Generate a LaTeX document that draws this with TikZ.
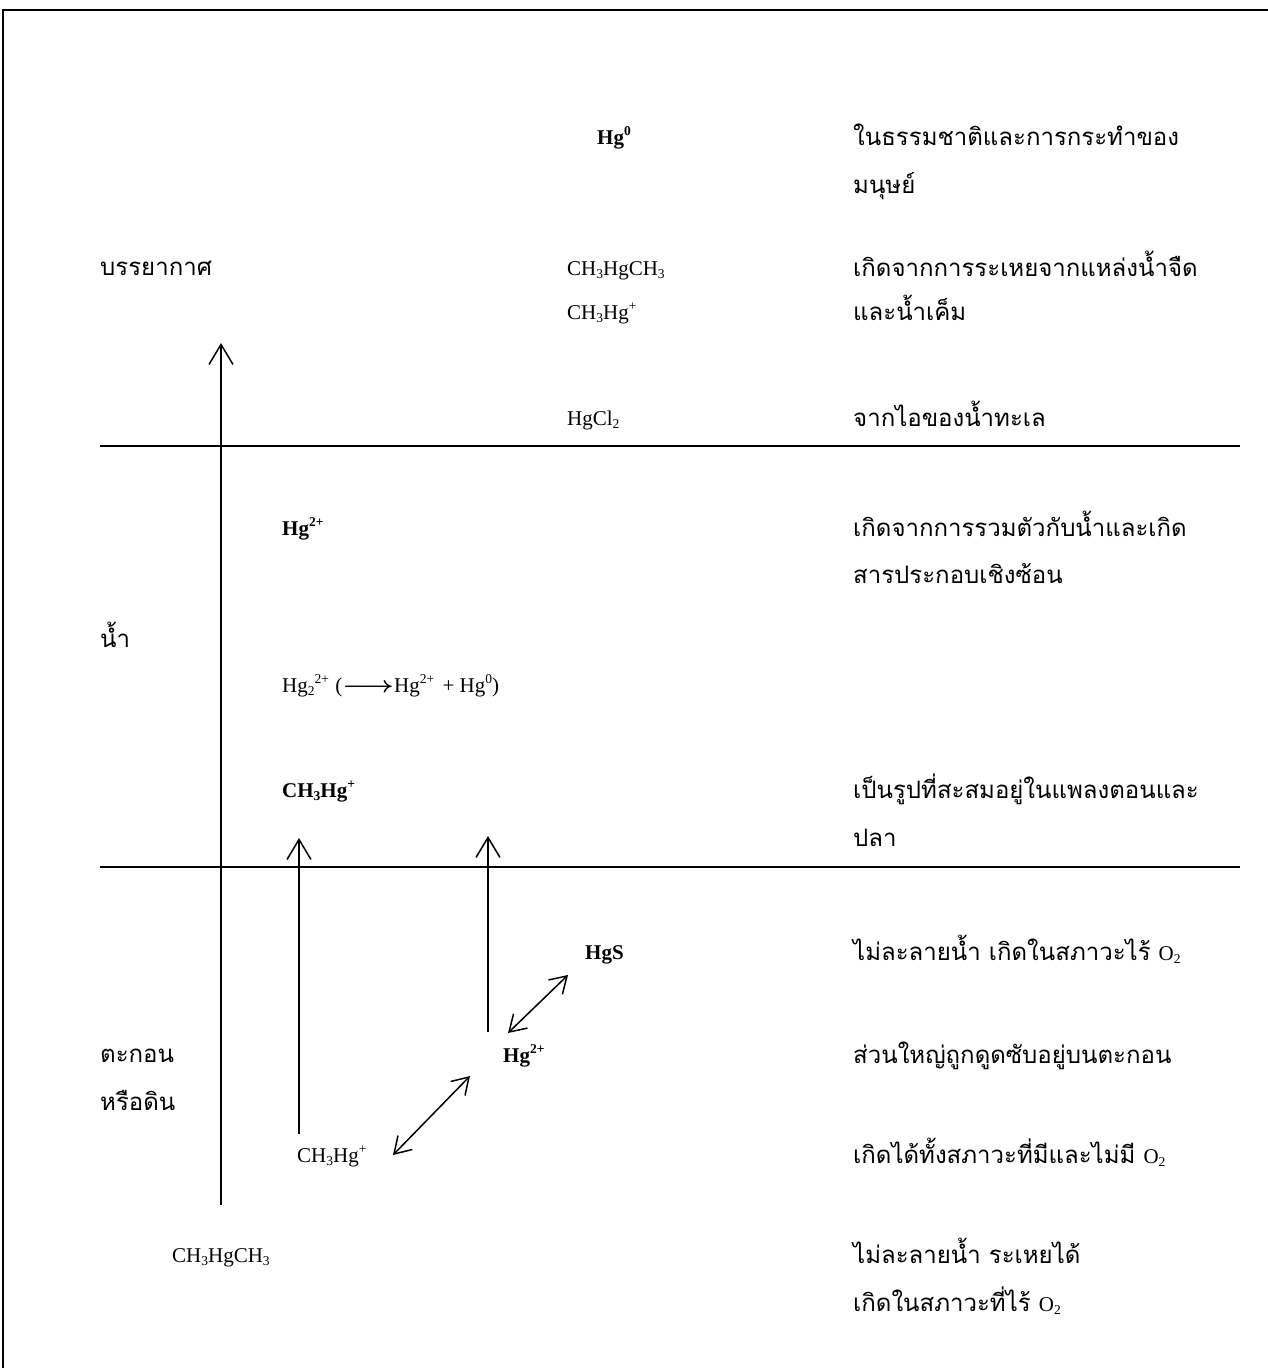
\documentclass[tikz,border=0pt]{standalone}
\usepackage{fontspec}
\usepackage{graphicx}
\setmainfont{Liberation Serif}
\newfontfamily\thai[Script=Thai]{Loma}
\usetikzlibrary{arrows.meta}
\newcommand{\lo}[1]{\raisebox{-0.35ex}{\fontsize{13.5}{13.5}\selectfont #1}}
\newcommand{\hi}[1]{\raisebox{0.85ex}{\fontsize{13.5}{13.5}\selectfont #1}}
\newcommand{\bigarr}{\scalebox{1.35}[1.1]{\boldmath$\longrightarrow$}}
\tikzset{
  chem/.style={anchor=base west, inner sep=0pt, font=\fontsize{21}{24}\selectfont},
  bchem/.style={chem, font=\fontsize{21}{24}\selectfont\bfseries},
  th/.style={anchor=base west, inner sep=0pt, font=\fontsize{24}{28}\selectfont\thai},
  rule/.style={line width=1.6pt},
  up/.style={line width=1.5pt, -{Straight Barb[length=20pt,width=24pt,line width=1.5pt]}},
  both/.style={line width=1.5pt, {Straight Barb[length=16pt,width=20pt,line width=1.5pt]}-{Straight Barb[length=16pt,width=20pt,line width=1.5pt]}}
}
\begin{document}
\begin{tikzpicture}[x=1pt,y=-1pt]
\useasboundingbox (0,0) rectangle (1268,1368);
% frame
\draw[rule] (1268,10) -- (3,10) -- (3,1368);
% layer lines
\draw[rule] (100,446) -- (1240,446);
\draw[rule] (100,867) -- (1240,867);
% layer labels
\node[th] (atm) at (100,275) {บรรยากาศ};
\node[th] (water) at (100,647) {น้ำ};
\node[th] (sed1) at (100,1062) {ตะกอน};
\node[th] (sed2) at (100,1110) {หรือดิน};
% atmosphere
\node[bchem] (hg0) at (597,144) {Hg\hi{0}};
\node[th] (d1a) at (853,145) {ในธรรมชาติและการกระทำของ};
\node[th] (d1b) at (853,193) {มนุษย์};
\node[chem] (dmA) at (567,275) {CH\lo{3}HgCH\lo{3}};
\node[chem] (mmA) at (567,319) {CH\lo{3}Hg\hi{+}};
\node[th] (d2a) at (853,276) {เกิดจากการระเหยจากแหล่งน้ำจืด};
\node[th] (d2b) at (853,320) {และน้ำเค็ม};
\node[chem] (hgcl) at (567,425) {HgCl\lo{2}};
\node[th] (d3) at (853,426) {จากไอของน้ำทะเล};
% water
\node[bchem] (hg2w) at (282,535) {Hg\hi{2+}};
\node[th] (d4a) at (853,536) {เกิดจากการรวมตัวกับน้ำและเกิด};
\node[th] (d4b) at (853,583) {สารประกอบเชิงซ้อน};
\node[chem] (hg22) at (282,692) {Hg\lo{2}\hi{2+}\hspace{0.3em}(\bigarr Hg\hi{2+}\hspace{0.15em} + Hg\hi{0})};
\node[bchem] (mmW) at (282,797) {CH\lo{3}Hg\hi{+}};
\node[th] (d5a) at (853,798) {เป็นรูปที่สะสมอยู่ในแพลงตอนและ};
\node[th] (d5b) at (853,846) {ปลา};
% sediment
\node[bchem] (hgs) at (585,959) {HgS};
\node[th] (d6) at (853,960) {ไม่ละลายน้ำ เกิดในสภาวะไร้ {\rmfamily\fontsize{21}{24}\selectfont O\lo{2}}};
\node[bchem] (hg2s) at (503,1062) {Hg\hi{2+}};
\node[th] (d7) at (853,1063) {ส่วนใหญ่ถูกดูดซับอยู่บนตะกอน};
\node[chem] (mmS) at (297,1162) {CH\lo{3}Hg\hi{+}};
\node[th] (d8) at (853,1163) {เกิดได้ทั้งสภาวะที่มีและไม่มี {\rmfamily\fontsize{21}{24}\selectfont O\lo{2}}};
\node[chem] (dmS) at (172,1262) {CH\lo{3}HgCH\lo{3}};
\node[th] (d9a) at (853,1263) {ไม่ละลายน้ำ ระเหยได้};
\node[th] (d9b) at (853,1311) {เกิดในสภาวะที่ไร้ {\rmfamily\fontsize{21}{24}\selectfont O\lo{2}}};
% arrow end points
\coordinate (a1s) at (221,1205);
\coordinate (a1e) at (221,343);
\coordinate (a2s) at (299,1134);
\coordinate (a2e) at (299,838);
\coordinate (a3s) at (488,1032);
\coordinate (a3e) at (488,836);
\coordinate (b1s) at (393,1155);
\coordinate (b1e) at (470,1076);
\coordinate (b2s) at (508,1033);
\coordinate (b2e) at (568,975);
\draw[up] (a1s) -- (a1e);
\draw[up] (a2s) -- (a2e);
\draw[up] (a3s) -- (a3e);
\draw[both] (b1s) -- (b1e);
\draw[both] (b2s) -- (b2e);
\end{tikzpicture}
\end{document}
